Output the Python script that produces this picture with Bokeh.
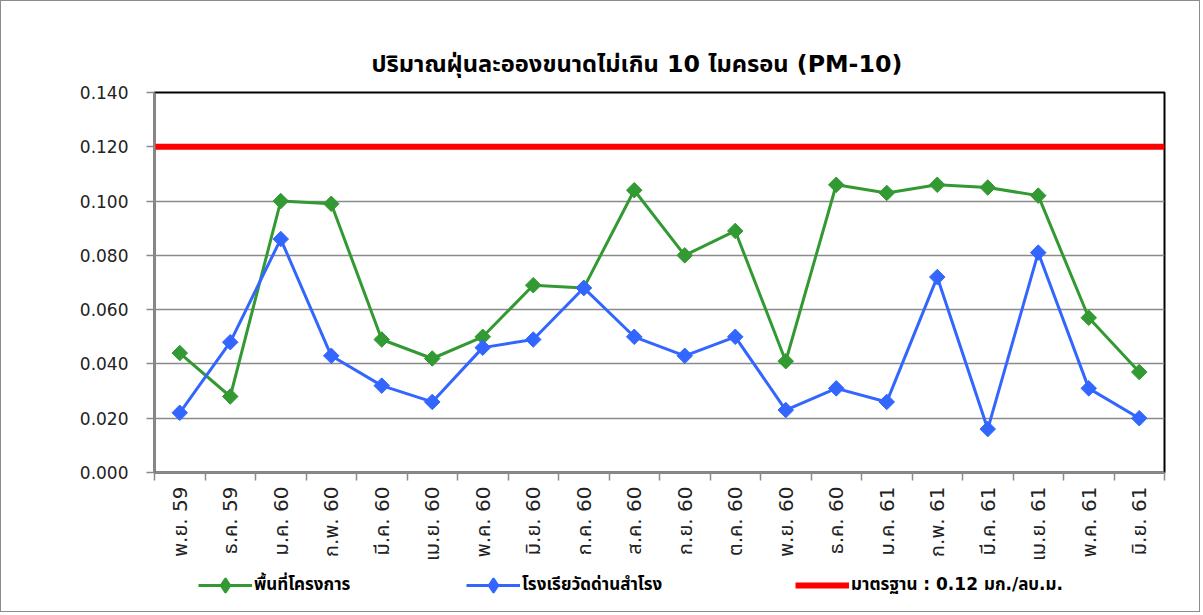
from bokeh.plotting import figure
from bokeh.layouts import column
from bokeh.models import (ColumnDataSource, FixedTicker, NumeralTickFormatter, Legend, LegendItem,
                          Range1d)
from bokeh.embed import file_html
from bokeh.resources import INLINE
import math

months = ["พ.ย. 59", "ธ.ค. 59", "ม.ค. 60", "ก.พ. 60", "มี.ค. 60", "เม.ย. 60", "พ.ค. 60",
          "มิ.ย. 60", "ก.ค. 60", "ส.ค. 60", "ก.ย. 60", "ต.ค. 60", "พ.ย. 60", "ธ.ค. 60",
          "ม.ค. 61", "ก.พ. 61", "มี.ค. 61", "เม.ย. 61", "พ.ค. 61", "มิ.ย. 61"]
project_area = [0.044, 0.028, 0.100, 0.099, 0.049, 0.042, 0.050, 0.069, 0.068, 0.104,
                0.080, 0.089, 0.041, 0.106, 0.103, 0.106, 0.105, 0.102, 0.057, 0.037]
school = [0.022, 0.048, 0.086, 0.043, 0.032, 0.026, 0.046, 0.049, 0.068, 0.050,
          0.043, 0.050, 0.023, 0.031, 0.026, 0.072, 0.016, 0.081, 0.031, 0.020]
standard = 0.12
y_ticks = [0.0, 0.02, 0.04, 0.06, 0.08, 0.10, 0.12, 0.14]

title_text = "ปริมาณฝุ่นละอองขนาดไม่เกิน 10 ไมครอน (PM-10)"
names = ["พื้นที่โครงการ", "โรงเรียวัดด่านสำโรง", "มาตรฐาน : 0.12 มก./ลบ.ม."]

FONT = "DejaVu Sans, Noto Sans Thai, sans-serif"
GREEN = "#339933"
BLUE = "#3366FF"
RED = "#FF0000"

n = len(months)
xs = [i + 0.5 for i in range(n)]
src = ColumnDataSource(dict(x=xs, a=project_area, b=school))

W = 1198
H_MAIN = 570
H_LEG = 40

p = figure(width=W, height=H_MAIN, output_backend="svg", toolbar_location=None,
           x_range=Range1d(0, n), y_range=Range1d(0, 0.14),
           min_border_left=153, min_border_right=35, min_border_top=91, min_border_bottom=99)

p.title.text = title_text
p.title.align = "left"
p.title.text_font = FONT
p.title.text_font_size = "23.7px"
p.title.text_font_style = "bold"
p.title.text_color = "#000000"
p.title.offset = 217
p.title.standoff = 30

p.outline_line_color = "#000000"
p.outline_line_width = 2
p.background_fill_color = "white"
p.border_fill_color = "white"

p.xgrid.grid_line_color = None
p.ygrid.ticker = FixedTicker(ticks=y_ticks)
p.ygrid.grid_line_color = "#8a8a8a"
p.ygrid.grid_line_width = 1.5

p.yaxis.ticker = FixedTicker(ticks=y_ticks)
p.yaxis.formatter = NumeralTickFormatter(format="0.000")
p.yaxis.axis_line_color = "#8a8a8a"
p.yaxis.axis_line_width = 2
p.yaxis.major_tick_line_color = "#8a8a8a"
p.yaxis.major_tick_line_width = 1.5
p.yaxis.major_tick_out = 8
p.yaxis.major_tick_in = 0
p.yaxis.minor_tick_line_color = None
p.yaxis.major_label_text_font = FONT
p.yaxis.major_label_text_font_size = "17px"
p.yaxis.major_label_text_color = "#222222"
p.yaxis.major_label_standoff = 18

p.xaxis.ticker = FixedTicker(ticks=xs, minor_ticks=list(range(n + 1)))
p.xaxis.major_label_overrides = {x: m for x, m in zip(xs, months)}
p.xaxis.major_label_orientation = math.pi / 2
p.xaxis.axis_line_color = "#8a8a8a"
p.xaxis.axis_line_width = 2
p.xaxis.major_tick_line_color = None
p.xaxis.minor_tick_line_color = "#8a8a8a"
p.xaxis.minor_tick_line_width = 1.5
p.xaxis.minor_tick_out = 8
p.xaxis.minor_tick_in = 0
p.xaxis.major_label_text_font = FONT
p.xaxis.major_label_text_font_size = "20px"
p.xaxis.major_label_text_color = "#222222"
p.xaxis.major_label_standoff = 6

p.line(x=[0, n], y=[standard, standard], line_color=RED, line_width=6)
p.line("x", "a", source=src, line_color=GREEN, line_width=3)
p.scatter("x", "a", source=src, marker="square", angle=math.pi / 4, size=11,
          fill_color=GREEN, line_color=GREEN)
p.line("x", "b", source=src, line_color=BLUE, line_width=3)
p.scatter("x", "b", source=src, marker="square", angle=math.pi / 4, size=11,
          fill_color=BLUE, line_color=BLUE)

# legend strip (frame aligned with the main plot by the column layout)
q = figure(width=W, height=H_LEG, output_backend="svg", toolbar_location=None,
           x_range=Range1d(0, 1), y_range=Range1d(0, 1),
           min_border_left=153, min_border_right=35, min_border_top=0, min_border_bottom=0)
q.axis.visible = False
q.grid.visible = False
q.outline_line_color = None
q.background_fill_color = "white"
q.border_fill_color = "white"

off = dict(x=[-5, -6], y=[-5, -6])
la = q.line(x=off["x"], y=off["y"], line_color=GREEN, line_width=3)
ma = q.scatter(x=off["x"], y=off["y"], marker="diamond", size=15,
               fill_color=GREEN, line_color=GREEN, line_width=2)
lb = q.line(x=off["x"], y=off["y"], line_color=BLUE, line_width=3)
mb = q.scatter(x=off["x"], y=off["y"], marker="diamond", size=15,
               fill_color=BLUE, line_color=BLUE, line_width=2)
ls = q.line(x=off["x"], y=off["y"], line_color=RED, line_width=6)

def add_leg(label, rs, x):
    lg = Legend(items=[LegendItem(label=label, renderers=rs)], location=(x, 8),
                glyph_width=54, glyph_height=36, label_standoff=2, label_height=36,
                label_text_font=FONT, label_text_font_size="17px", label_text_font_style="bold",
                label_text_color="#000000", border_line_color=None, background_fill_alpha=0,
                padding=0, margin=0)
    q.add_layout(lg, "center")

add_leg(names[0], [la, ma], 44)
add_leg(names[1], [lb, mb], 312)
add_leg(names[2], [ls], 641)

layout = column(p, q, spacing=0)
layout.styles = {"border": "1.5px solid #8c8c8c", "background-color": "white"}

open("out.html", "w").write(file_html(layout, INLINE))
